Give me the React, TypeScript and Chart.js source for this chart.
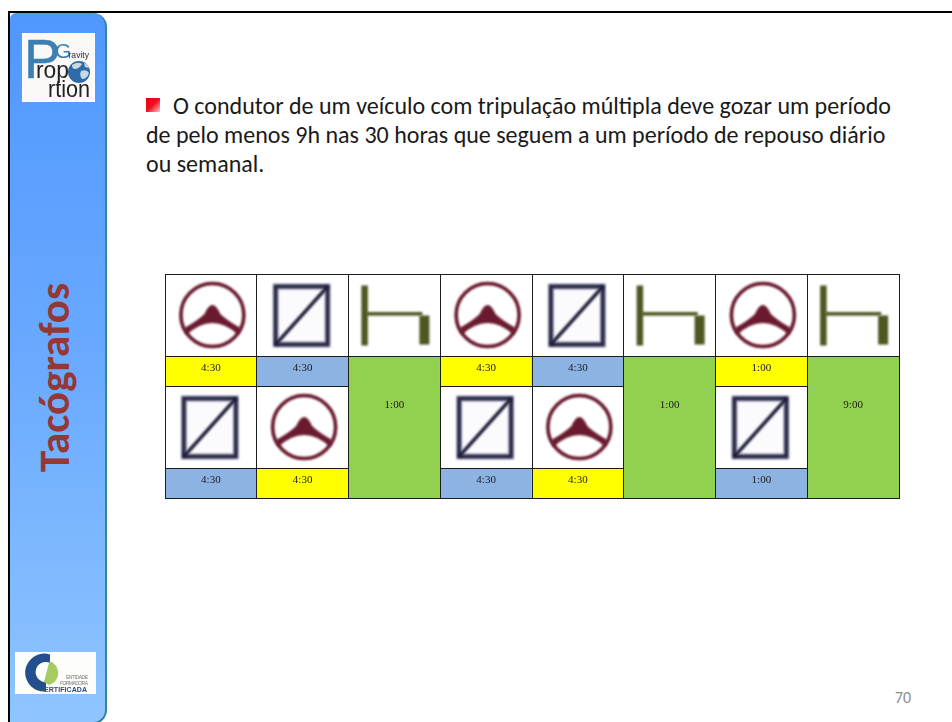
import React, { useEffect, useRef } from "react";
import { Chart, registerables } from "chart.js";

Chart.register(...registerables);

const columns = ["1", "2", "3", "4", "5", "6", "7", "8"];
const rowHeights = [82.5, 29.5, 82, 29.5];
const topActivities = ["drive", "work", "rest", "drive", "work", "rest", "drive", "rest"];
const topDurations = ["4:30", "4:30", "1:00", "4:30", "4:30", "1:00", "1:00", "9:00"];
const bottomActivities = ["work", "drive", null, "work", "drive", null, "work", null];
const bottomDurations = ["4:30", "4:30", null, "4:30", "4:30", null, "1:00", null];
const activityColors: Record<string, string> = { drive: "#ffff00", work: "#8db3e2", rest: "#92d050" };
const bodyLines = [
  "O condutor de um veículo com tripulação múltipla deve gozar um período",
  "de pelo menos 9h nas 30 horas que seguem a um período de repouso diário",
  "ou semanal.",
];

function drawWheel(ctx: CanvasRenderingContext2D, cx: number, cy: number) {
  ctx.save();
  ctx.translate(cx + 1.5, cy - 0.5);
  ctx.strokeStyle = "#651428";
  ctx.fillStyle = "#6a1a2e";
  ctx.lineWidth = 3.6;
  ctx.beginPath();
  ctx.arc(0, 0, 31.5, 0, Math.PI * 2);
  ctx.stroke();
  ctx.beginPath();
  ctx.moveTo(-28, 13);
  ctx.quadraticCurveTo(-14, 5, -8, -1);
  ctx.quadraticCurveTo(-4, -10, 0, -10);
  ctx.quadraticCurveTo(4, -10, 8, -1);
  ctx.quadraticCurveTo(14, 5, 28, 13);
  ctx.lineTo(26, 20);
  ctx.quadraticCurveTo(0, -4, -26, 20);
  ctx.closePath();
  ctx.fill();
  ctx.restore();
}

function drawBox(ctx: CanvasRenderingContext2D, cx: number, cy: number) {
  ctx.save();
  ctx.translate(cx - 1, cy);
  ctx.fillStyle = "#fbfafd";
  ctx.fillRect(-26, -29, 52, 58);
  ctx.strokeStyle = "#a9a9c2";
  ctx.lineWidth = 6;
  ctx.strokeRect(-26, -29, 52, 58);
  ctx.strokeStyle = "#24243f";
  ctx.lineWidth = 3.6;
  ctx.strokeRect(-26, -29, 52, 58);
  ctx.lineWidth = 3.4;
  ctx.strokeStyle = "#1e1e38";
  ctx.beginPath();
  ctx.moveTo(-26, 29);
  ctx.lineTo(26, -29);
  ctx.stroke();
  ctx.restore();
}

function drawBed(ctx: CanvasRenderingContext2D, cx: number, cy: number) {
  ctx.save();
  ctx.translate(cx + 1, cy);
  ctx.fillStyle = "#4f5620";
  ctx.fillRect(-34, -30, 6.5, 60);
  ctx.fillRect(-29, -3.5, 56, 3.6);
  ctx.fillRect(24, 0, 10, 29);
  ctx.restore();
}

const tablePlugin = {
  id: "tablePlugin",
  afterDatasetsDraw(chart: any) {
    const { ctx } = chart;
    const snap = (v: number) => Math.round(v - 0.5) + 0.5;
    chart.data.datasets.forEach((ds: any, di: number) => {
      chart.getDatasetMeta(di).data.forEach((el: any, i: number) => {
        if (ds.data[i] == null) return;
        const left = snap(el.x - el.width / 2);
        const right = snap(el.x + el.width / 2);
        const top = snap(Math.min(el.y, el.base));
        const bottom = snap(Math.max(el.y, el.base));
        ctx.save();
        const icon = ds.cellIcons?.[i];
        if (icon) {
          const cy = (top + bottom) / 2;
          ctx.filter = "blur(0.8px)";
          if (icon === "drive") drawWheel(ctx, el.x, cy);
          if (icon === "work") drawBox(ctx, el.x, cy);
          if (icon === "rest") drawBed(ctx, el.x, cy);
          ctx.filter = "none";
        }
        ctx.strokeStyle = "#1c1c1c";
        ctx.lineWidth = 1;
        ctx.strokeRect(left, top, right - left, bottom - top);
        const label = ds.cellLabels?.[i];
        if (label) {
          ctx.fillStyle = "#1a1a1a";
          ctx.font = "11px 'Liberation Serif'";
          ctx.textAlign = "center";
          ctx.textBaseline = "middle";
          const isTall = bottom - top > 60;
          const y = isTall ? top + 48.5 : (top + bottom) / 2 - 3.5;
          ctx.fillText(label, el.x, y);
        }
        ctx.restore();
      });
    });
  },
};

function edge(n: number) {
  return rowHeights.slice(0, n).reduce((a, b) => a + b, 0);
}

function TopLogo() {
  const sans = "'Liberation Sans'";
  return (
    <svg width={73} height={69} viewBox="22 33 73 69" style={{ position: "absolute", left: 22, top: 33, display: "block", filter: "blur(0.35px)" }}>
      <rect x={22.5} y={33.5} width={72} height={68} fill="#fbf8f8" stroke="#ffffff" />
      <text x={24} y={78} fontFamily={sans} fontSize={55} fill="#3c7fb1" stroke="#3c7fb1" strokeWidth={0.5}>P</text>
      <text x={55} y={58} fontFamily={sans} fontSize={21} fill="#3c7fb1">G</text>
      <text x={68.5} y={58} fontFamily={sans} fontSize={9.5} fill="#333" textLength={20.5} lengthAdjust="spacingAndGlyphs">ravity</text>
      <text x={36} y={78} fontFamily={sans} fontSize={24} fill="#222" textLength={33} lengthAdjust="spacingAndGlyphs">rop</text>
      <text x={48} y={96.5} fontFamily={sans} fontSize={24} fill="#222" textLength={42} lengthAdjust="spacingAndGlyphs">rtion</text>
      <circle cx={79} cy={72} r={11} fill="#2f6aa8" />
      <path d="M72 65 q6 -4 10 -1 q-3 5 -7 5 q-3 0 -3 -4z M81 71 q6 -2 8 2 q-2 6 -7 6 q-3 -4 -1 -8z M84 63 q4 1 5 5 l-4 -1z" fill="#c9d8e6" />
    </svg>
  );
}

function BottomLogo() {
  const sans = "'Liberation Sans'";
  return (
    <svg width={81} height={42} viewBox="15 652 81 42" style={{ position: "absolute", left: 15, top: 652, display: "block", filter: "blur(0.3px)" }}>
      <rect x={15} y={652} width={81} height={42} fill="#fdfdfb" />
      <path d="M50 654.5 A19 19 0 1 0 46 691.5 L46 682 A10 10 0 1 1 50 663 Z" fill="#234f8e" />
      <path d="M49.5 661 A12.5 12.5 0 0 1 49 685 L44 682 Z" fill="#a6cb62" />
      <text x={66} y={679} fontFamily={sans} fontSize={5} textLength={22} fill="#77797a">ENTIDADE</text>
      <text x={60} y={684.5} fontFamily={sans} fontSize={5} textLength={28} fill="#77797a">FORMADORA</text>
      <text x={44} y={691.5} fontFamily={sans} fontSize={7} fontWeight={700} textLength={43} fill="#2a4f86">ERTIFICADA</text>
    </svg>
  );
}

export default function App() {
  const ref = useRef<HTMLCanvasElement>(null);

  useEffect(() => {
    document.body.style.margin = "0";
    const labelColor = (a: string | null) => (a ? activityColors[a] : "transparent");
    const chart = new Chart(ref.current!, {
      type: "bar",
      data: {
        labels: columns,
        datasets: [
          {
            data: columns.map(() => [edge(0), edge(1)]),
            backgroundColor: "#ffffff",
            cellIcons: topActivities,
          } as any,
          {
            data: topActivities.map((a) => (a === "rest" ? [edge(1), edge(4)] : [edge(1), edge(2)])),
            backgroundColor: topActivities.map(labelColor),
            cellLabels: topDurations,
          } as any,
          {
            data: bottomActivities.map((a) => (a ? [edge(2), edge(3)] : null)),
            backgroundColor: "#ffffff",
            cellIcons: bottomActivities,
          } as any,
          {
            data: bottomActivities.map((a) => (a ? [edge(3), edge(4)] : null)),
            backgroundColor: bottomActivities.map(labelColor),
            cellLabels: bottomDurations,
          } as any,
        ],
      },
      options: {
        responsive: false,
        animation: false,
        layout: { padding: { left: 3, right: 3, top: 3, bottom: 3 } },
        datasets: { bar: { grouped: false, barPercentage: 1, categoryPercentage: 1, borderWidth: 0 } },
        plugins: { legend: { display: false }, tooltip: { enabled: false } },
        scales: {
          x: { display: false, offset: true },
          y: { display: false, reverse: true, min: 0, max: edge(4) },
        },
      },
      plugins: [tablePlugin],
    });
    return () => chart.destroy();
  }, []);

  const bodyFont = "Carlito, Lato, sans-serif";
  const lineStyle = (left: number, top: number): React.CSSProperties => ({
    position: "absolute",
    left,
    top,
    font: `24px ${bodyFont}`,
    lineHeight: "28px",
    color: "#1a1a1a",
    whiteSpace: "nowrap",
  });

  return (
    <div style={{ position: "fixed", left: 0, top: 0, width: 952, height: 722, background: "#fff", overflow: "hidden" }}>
      <div style={{ position: "absolute", left: 8, top: 11, width: 944, height: 2, background: "#000" }} />
      <div style={{ position: "absolute", left: 8, top: 11, width: 2, height: 711, background: "#000" }} />
      <div
        style={{
          position: "absolute",
          left: 10,
          top: 13,
          width: 95,
          height: 709,
          background: "linear-gradient(180deg,#5097ff 0%,#6aaaff 50%,#8fc5ff 100%)",
          borderRight: "2px solid #31859c",
          borderBottom: "2px solid #31859c",
          borderRadius: "6px 14px 14px 0",
        }}
      />
      <TopLogo />
      <BottomLogo />
      <div style={{ position: "absolute", left: 55, top: 378, width: 0, height: 0, transform: "rotate(-90deg)" }}>
        <div
          style={{
            position: "absolute",
            left: -94,
            top: -24,
            font: `700 43px ${bodyFont}`,
            lineHeight: "48px",
            color: "#953735",
            whiteSpace: "nowrap",
          }}
        >
          Tacógrafos
        </div>
      </div>
      <div
        style={{
          position: "absolute",
          left: 146,
          top: 98,
          width: 14,
          height: 14,
          background: "linear-gradient(135deg,#e8000f 0%,#f01020 50%,#fdc4c8 100%)",
        }}
      />
      <div style={lineStyle(173, 92)}>{bodyLines[0]}</div>
      <div style={lineStyle(146, 120.5)}>{bodyLines[1]}</div>
      <div style={lineStyle(146, 149.5)}>{bodyLines[2]}</div>
      <canvas
        ref={ref}
        width={740}
        height={230}
        style={{ position: "absolute", left: 162, top: 271, display: "block" }}
      />
      <div style={{ position: "absolute", left: 895, top: 689, font: `16px ${bodyFont}`, lineHeight: "18px", color: "#8b8b8b" }}>
        70
      </div>
    </div>
  );
}
